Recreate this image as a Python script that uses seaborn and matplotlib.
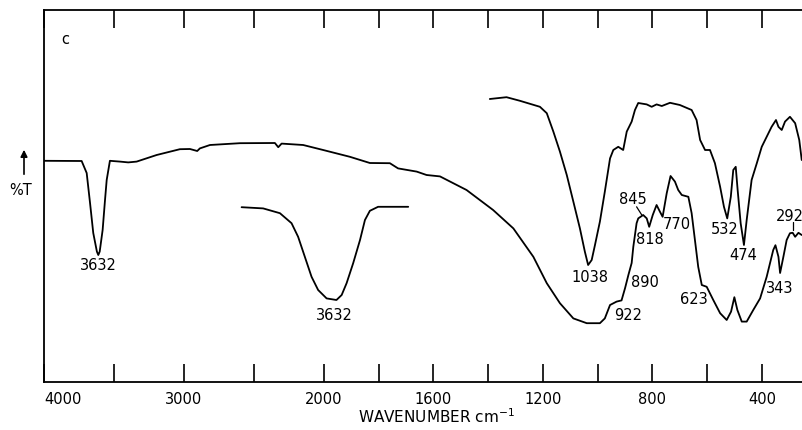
import numpy as np
import matplotlib
matplotlib.use('Agg')
import matplotlib.pyplot as plt
import seaborn as sns

# main spectrum (full range)
main_wn = [4000, 3731, 3695, 3671, 3648, 3622, 3612, 3602, 3581, 3564, 3552, 3529, 3457, 3398, 3338, 3195,
           3029, 2957, 2905, 2886, 2814, 2600, 2350, 2326, 2302, 2148, 2005, 1905, 1832, 1759,
           1729, 1661, 1625, 1576, 1479, 1382, 1308, 1235, 1186, 1138, 1089, 1040, 992, 974,
           955, 931, 913, 900, 888, 876, 870, 858, 852, 834, 821, 812, 799, 785, 773, 763,
           748, 734, 718, 706, 693, 669, 657, 645, 633, 620, 602, 578, 553, 529, 513, 501,
           490, 474, 456, 432, 407, 383, 359, 351, 340, 334, 322, 310, 298, 288, 279, 267, 255]
main_t = [55.3, 55.25, 52.25, 44.75, 37.25, 32.6, 31.75, 32.6, 38, 45.5, 50.5, 55.3, 55.1, 54.9, 55.1, 56.75,
          58.2, 58.25, 57.75, 58.4, 59.25, 59.7, 59.75, 58.7, 59.6, 59.25, 58, 56.3, 54.75, 54.7,
          53.4, 52.6, 51.75, 51.4, 48, 43, 38.4, 31.3, 24.7, 19.7, 15.9, 14.7, 14.7, 15.9,
          19.25, 20.1, 20.4, 23.5, 26.75, 29.75, 33.8, 39.7, 40.9, 41.75, 40.9, 38.8, 41.75, 44.25, 42.6, 41.3,
          47.2, 51.5, 50.1, 48, 46.75, 46.3, 42.2, 35.5, 28.8, 24.25, 23.8, 20.5, 17.2, 15.5, 17.6, 21.2,
          18, 15.1, 15.1, 18, 20.9, 26.3, 33, 34.2, 31.3, 27.25, 31.3, 35.5, 37.2, 37.3, 36.3, 37.3, 36.75]

# thinner sample, upper trace
upper_wn = [1394, 1333, 1284, 1211, 1186, 1162, 1138, 1113, 1089, 1065, 1047, 1035, 1022, 1010, 992,
            974, 955, 943, 925, 907, 894, 876, 864, 852, 821, 803, 785, 766, 736, 700,
            657, 639, 626, 608, 590, 572, 553, 539, 527, 514, 505, 496, 489, 478, 466,
            456, 438, 419, 401, 383, 365, 349, 340, 328, 316, 298, 279, 264, 255]
upper_t = [70.75, 71.2, 70.3, 68.8, 67.2, 62.6, 57.6, 51.75, 45.1, 38.4, 32.6, 29.25, 30.5, 34.25, 40.1,
           47.6, 55.9, 58, 58.8, 58, 62.6, 65.1, 68, 69.75, 69.4, 68.8, 69.4, 69, 69.8, 69.25,
           68, 65.5, 60.5, 58, 58, 54.7, 48.8, 43.8, 40.9, 46.3, 53, 53.8, 48, 39.7, 34.25,
           40.5, 50.5, 54.7, 58.8, 61.3, 63.8, 65.5, 63.8, 63, 65.1, 66.3, 64.7, 60.5, 55.5]

# expanded 3632 band drawn as an inset trace
inset_wn = [2588, 2434, 2314, 2231, 2184, 2136, 2088, 2041, 1990, 1954, 1935, 1917, 1893, 1868,
            1850, 1832, 1802, 1759, 1692]
inset_t = [43.7, 43.4, 42.2, 39.7, 36.3, 31.3, 26.3, 23, 20.9, 20.5, 21.75, 24.7, 29.7, 35.5,
           40.5, 42.8, 43.8, 43.8, 43.8]

peak_labels = ['3632', '3632', '1038', '922', '890', '845', '818', '770', '623', '532', '474', '343', '292']
label_wn = [3612, 1963, 1028, 888, 827, 870, 809, 712, 648, 538, 468, 334, 300]
label_t = [29, 16.75, 26.2, 16.5, 24.8, 45.7, 35.5, 39.4, 20.7, 38.2, 31.5, 23.4, 41.3]

# leader lines (845, 292)
leader_wn = [[858, 839], [286, 286]]
leader_t = [[43.8, 41.75], [40.1, 38.0]]

tick_pos = [4000, 3500, 3000, 2500, 2000, 1800, 1600, 1400, 1200, 1000, 800, 600, 400]
tick_lab = ['4000', '', '3000', '', '2000', '', '1600', '', '1200', '', '800', '', '400']

# axis is compressed above 2000 cm-1
RATIO = 0.511

def fwd(w):
    w = np.asarray(w, dtype=float)
    return np.where(w > 2000, 2000 + (w - 2000) * RATIO, w)

def inv(u):
    u = np.asarray(u, dtype=float)
    return np.where(u > 2000, 2000 + (u - 2000) / RATIO, u)

sns.set_style('ticks')
plt.rcParams['font.family'] = ['DejaVu Sans']
plt.rcParams['text.color'] = 'black'
plt.rcParams['xtick.color'] = 'black'
plt.rcParams['xtick.labelcolor'] = 'black'

fig = plt.figure(figsize=(8.02, 4.30), dpi=100)
ax = fig.add_axes([44 / 802, 48 / 430, 758 / 802, 372 / 430])

for xs, ys in [(main_wn, main_t), (upper_wn, upper_t), (inset_wn, inset_t)]:
    sns.lineplot(x=xs, y=ys, sort=False, estimator=None, color='black', lw=1.3, ax=ax,
                 solid_joinstyle='round')

ax.set_xscale('function', functions=(fwd, inv))
ax.set_xlim(4000, 254)
ax.set_ylim(0, 93)

for lab, w, t in zip(peak_labels, label_wn, label_t):
    ax.text(w, t, lab, ha='center', va='center', fontsize=10.5, color='black')
for xs, ys in zip(leader_wn, leader_t):
    ax.plot(xs, ys, color='black', lw=0.9)

ax.text(0.028, 0.92, 'c', transform=ax.transAxes, fontsize=10.5, ha='center', va='center')

ax.set_xticks(tick_pos, tick_lab)
ax.get_xticklabels()[0].set_ha('left')
ax.set_yticks([])
ax.tick_params(axis='x', direction='in', length=13, width=1.2, top=True, bottom=True,
               labelsize=10.5, pad=7, colors='black')
for side in ['left', 'bottom', 'top']:
    ax.spines[side].set_linewidth(1.3)
    ax.spines[side].set_color('black')
ax.spines['right'].set_visible(False)

fig.text(436 / 802, 1 - 417 / 430, 'WAVENUMBER cm$^{-1}$', ha='center', va='center', fontsize=11)
fig.text(21 / 802, 1 - 191 / 430, '%T', ha='center', va='center', fontsize=10.5)
ax.annotate('', xy=(24 / 802, 1 - 147 / 430), xytext=(24 / 802, 1 - 177 / 430),
            xycoords='figure fraction', textcoords='figure fraction',
            arrowprops=dict(arrowstyle='-|>', lw=1.2, color='black', mutation_scale=10))

fig.savefig('out.png', dpi=100)
